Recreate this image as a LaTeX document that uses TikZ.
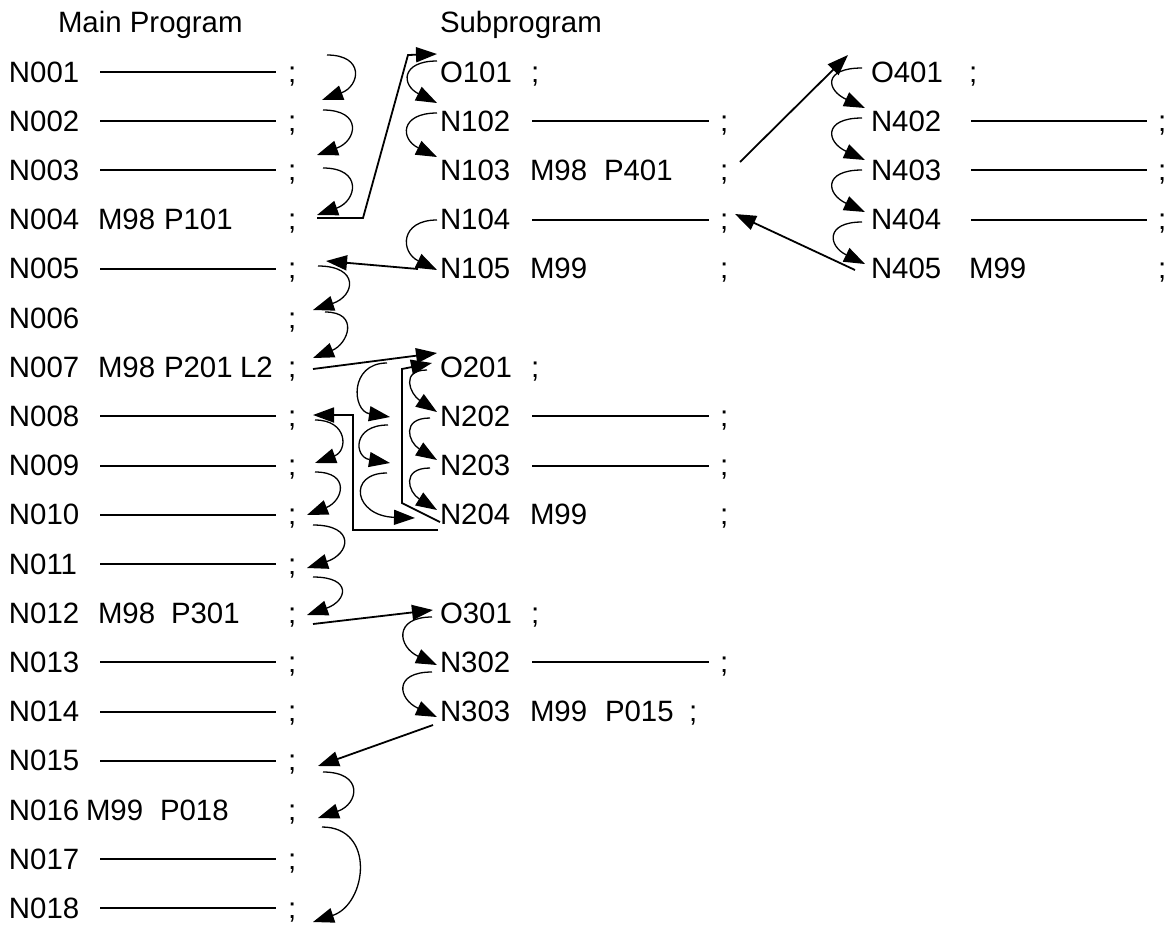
\documentclass[tikz,border=0pt]{standalone}
\usepackage{fontspec}
\setmainfont{Liberation Sans}
\usetikzlibrary{arrows.meta}

% baseline and centre line of program row #1
\newcommand\rowb[1]{{82+49.2*(#1-1)}}
\newcommand\rowc[1]{{72+49.2*(#1-1)}}

\tikzset{
  code/.style={anchor=base west,inner sep=0pt,outer sep=0pt,font=\fontsize{14.7}{17.5}\selectfont},
  blank/.style={line width=1pt},
  hop/.style={line width=0.65pt,-{Triangle[length=10.5pt,width=7.5pt]}},
  link/.style={line width=0.9pt,line join=miter,-{Triangle[length=10.5pt,width=7.5pt]}},
}

\begin{document}
\begin{tikzpicture}[x=0.5pt,y=-0.5pt]
\useasboundingbox (0,0) rectangle (1173,927);

% headings
\node[code] (mainttl) at (58,32) {Main Program};
\node[code] (subttl) at (440,32) {Subprogram};

% ---------------- main program ----------------
\foreach \i/\lbl in {1/N001,2/N002,3/N003,4/N004,5/N005,6/N006,7/N007,8/N008,9/N009,
                     10/N010,11/N011,12/N012,13/N013,14/N014,15/N015,16/N016,17/N017,18/N018}{
  \node[code] (m\i) at (9,\rowb{\i}) {\lbl};
  \node[code] (ms\i) at (288,\rowb{\i}) {;};
}
\foreach \i in {1,2,3,5,8,9,10,11,13,14,15,17,18}
  \draw[blank] (100,\rowc{\i}) -- (276,\rowc{\i});
\node[code] (m4a) at (98,\rowb{4}) {M98};
\node[code] (m4b) at (164,\rowb{4}) {P101};
\node[code] (m7a) at (98,\rowb{7}) {M98};
\node[code] (m7b) at (164,\rowb{7}) {P201};
\node[code] (m7c) at (240,\rowb{7}) {L2};
\node[code] (m12a) at (98,\rowb{12}) {M98};
\node[code] (m12b) at (171,\rowb{12}) {P301};
\node[code] (m16a) at (86,\rowb{16}) {M99};
\node[code] (m16b) at (160,\rowb{16}) {P018};

% ---------------- subprograms O101, O201, O301 ----------------
\foreach \i/\lbl in {1/O101,2/N102,3/N103,4/N104,5/N105,7/O201,8/N202,9/N203,10/N204,
                     12/O301,13/N302,14/N303}
  \node[code] (s\i) at (440,\rowb{\i}) {\lbl};
\foreach \i in {1,7,12}
  \node[code] (ss\i) at (531,\rowb{\i}) {;};
\foreach \i in {2,3,4,5,8,9,10,13}
  \node[code] (ss\i) at (720,\rowb{\i}) {;};
\node[code] (ss14) at (689,\rowb{14}) {;};
\foreach \i in {2,4,8,9,13}
  \draw[blank] (532,\rowc{\i}) -- (709,\rowc{\i});
\node[code] (s3a) at (530,\rowb{3}) {M98};
\node[code] (s3b) at (604,\rowb{3}) {P401};
\node[code] (s5a) at (530,\rowb{5}) {M99};
\node[code] (s10a) at (530,\rowb{10}) {M99};
\node[code] (s14a) at (530,\rowb{14}) {M99};
\node[code] (s14b) at (605,\rowb{14}) {P015};

% ---------------- subprogram O401 ----------------
\foreach \i/\lbl in {1/O401,2/N402,3/N403,4/N404,5/N405}
  \node[code] (t\i) at (871,\rowb{\i}) {\lbl};
\node[code] (ts1) at (969,\rowb{1}) {;};
\foreach \i in {2,3,4,5}
  \node[code] (ts\i) at (1158,\rowb{\i}) {;};
\foreach \i in {2,3,4}
  \draw[blank] (971,\rowc{\i}) -- (1147,\rowc{\i});
\node[code] (t5a) at (969,\rowb{5}) {M99};

% ---------------- block-to-block steps (curved arrows) ----------------
% name / start / end / first control dx / second control dx / second control dy
\foreach \n/\xs/\ys/\xt/\yt/\ka/\kb/\d in {
    m1/327/55/322/100/38/38/-14,
    m2/323/110/317/155/40/40/-14,
    m3/323/168/317/215/40/40/-14,
    m5/318/266/313/310/42/42/-14,
    m6/325/312/313/358/35/35/-14,
    m8/315/420/315/463/33/33/-12,
    m9/315/472/307/515/36/36/-14,
    m10/313/525/307/568/43/43/-14,
    m11/313/577/307/615/40/40/-14,
    m15/323/772/318/818/41/41/-14,
    m16/322/827/313/922/54/54/-18,
    r1/387/363/390/417/-38/-38/-6,
    r2/388/425/390/463/-36/-36/-6,
    r3/387/473/415/518/-40/-61/-2,
    s1/437/61/437/103/-36/-36/-18,
    s2/437/113/437/157/-37/-37/-18,
    s3/437/220/437/270/-37/-37/-18,
    s4/427/370/437/412/-27/-27/-18,
    s5/430/418/437/460/-29/-29/-18,
    s6/430/468/437/510/-29/-29/-18,
    s7/432/617/437/665/-39/-39/-18,
    s8/432/672/437/717/-39/-39/-18,
    t1/862/68/865/108/-39/-39/-18,
    t2/862/118/865/160/-39/-39/-18,
    t3/862/170/865/212/-39/-39/-18,
    t4/862/222/865/264/-37/-37/-18}{
  \coordinate (h\n-a) at (\xs,\ys);
  \coordinate (h\n-b) at (\xt,\yt);
  \draw[hop] (h\n-a) .. controls +(\ka,0) and +(\kb,\d) .. (h\n-b);
}

% ---------------- calls and returns ----------------
% N004 calls O101
\coordinate (ca0) at (317,218);
\coordinate (ca1) at (363,218);
\coordinate (ca2) at (408,55);
\coordinate (ca3) at (437,54);
\draw[link] (ca0) -- (ca1) -- (ca2) -- (ca3);
% N105 returns to N005
\coordinate (ra0) at (418,269);
\coordinate (ra1) at (326,261);
\draw[link] (ra0) -- (ra1);
% N007 calls O201
\coordinate (cb0) at (313,369);
\coordinate (cb1) at (437,353);
\draw[link] (cb0) -- (cb1);
% N204 repeats O201
\coordinate (rb0) at (440,522);
\coordinate (rb1) at (402,503);
\coordinate (rb2) at (402,369);
\coordinate (rb3) at (432,363);
\draw[link] (rb0) -- (rb1) -- (rb2) -- (rb3);
% N204 returns to N008
\coordinate (rc0) at (438,530);
\coordinate (rc1) at (353,530);
\coordinate (rc2) at (353,415);
\coordinate (rc3) at (313,415);
\draw[link] (rc0) -- (rc1) -- (rc2) -- (rc3);
% N012 calls O301
\coordinate (cc0) at (313,624);
\coordinate (cc1) at (433,610);
\draw[link] (cc0) -- (cc1);
% N303 returns to N015
\coordinate (rd0) at (433,725);
\coordinate (rd1) at (318,766);
\draw[link] (rd0) -- (rd1);
% N103 calls O401
\coordinate (cd0) at (740,162);
\coordinate (cd1) at (848,55);
\draw[link] (cd0) -- (cd1);
% N405 returns to N104
\coordinate (re0) at (855,270);
\coordinate (re1) at (735,214);
\draw[link] (re0) -- (re1);
\end{tikzpicture}
\end{document}
